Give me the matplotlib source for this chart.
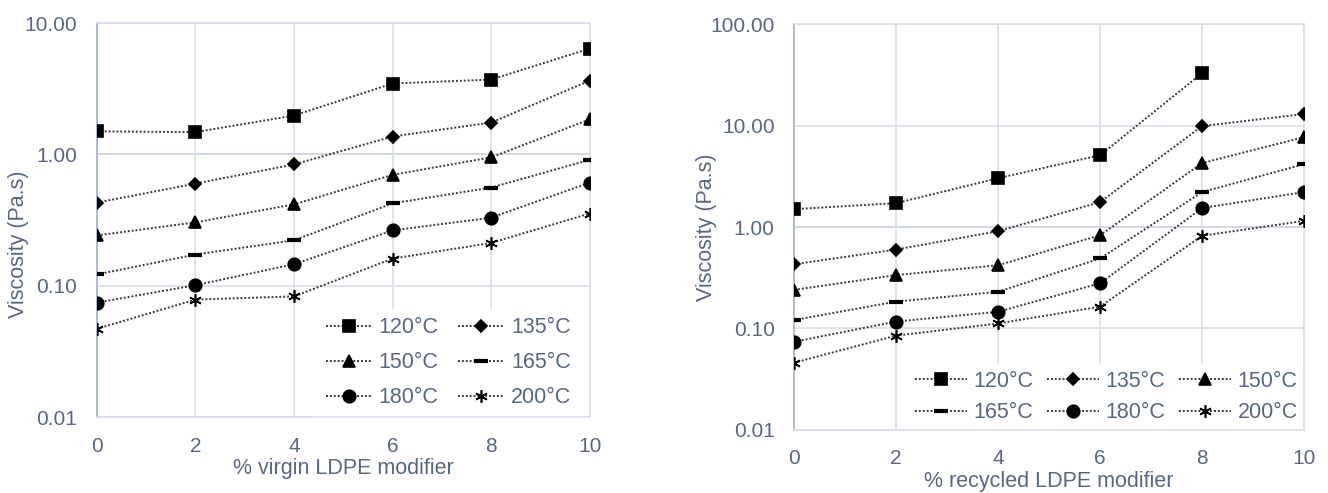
import matplotlib.pyplot as plt
from matplotlib.ticker import FixedLocator, FuncFormatter

plt.rcParams['font.family'] = ['Liberation Sans', 'DejaVu Sans']

# data
pct = [0, 2, 4, 6, 8, 10]
temps = ['120°C', '135°C', '150°C', '165°C', '180°C', '200°C']

virgin_120 = [1.50, 1.48, 1.98, 3.47, 3.72, 6.40]
virgin_135 = [0.43, 0.60, 0.84, 1.37, 1.75, 3.65]
virgin_150 = [0.242, 0.304, 0.417, 0.70, 0.95, 1.85]
virgin_165 = [0.122, 0.173, 0.222, 0.424, 0.56, 0.91]
virgin_180 = [0.0745, 0.101, 0.146, 0.264, 0.33, 0.61]
virgin_200 = [0.047, 0.0785, 0.083, 0.161, 0.212, 0.355]

recycled_120 = [1.50, 1.72, 3.03, 5.1, 32.9]   # no value at 10 %
recycled_135 = [0.43, 0.60, 0.91, 1.76, 9.9, 13.0]
recycled_150 = [0.24, 0.336, 0.42, 0.83, 4.27, 7.7]
recycled_165 = [0.121, 0.184, 0.23, 0.49, 2.21, 4.17]
recycled_180 = [0.074, 0.117, 0.146, 0.279, 1.54, 2.21]
recycled_200 = [0.046, 0.085, 0.112, 0.164, 0.82, 1.15]

virgin = [virgin_120, virgin_135, virgin_150, virgin_165, virgin_180, virgin_200]
recycled = [recycled_120, recycled_135, recycled_150, recycled_165, recycled_180, recycled_200]

markers = ['s', 'D', '^', '_', 'o', (6, 2, 0)]
msizes = [9, 6, 9, 10, 9, 9]

TXT = '#596780'
GRID = '#d9dfe9'
AXIS = '#aebbd0'
LINE = '#3a3a3a'


def draw(ax, series, ymax, xlabel):
    hs = []
    for vals, t, m, ms in zip(series, temps, markers, msizes):
        h, = ax.plot(pct[:len(vals)], vals, color=LINE, ls=(0, (1, 1)), lw=1.4,
                     marker=m, ms=ms, mfc='black', mec='black',
                     mew=3 if m == '_' else 1.2, label=t, zorder=3)
        hs.append(h)
    ax.set_yscale('log')
    ax.set_ylim(0.01, ymax)
    ax.set_xlim(0, 10)
    ax.set_xticks(pct)
    decades = [10.0 ** k for k in range(-2, 3) if 10.0 ** k <= ymax]
    ax.yaxis.set_major_locator(FixedLocator(decades))
    ax.yaxis.set_minor_locator(FixedLocator([]))
    ax.yaxis.set_major_formatter(FuncFormatter(lambda v, p: '%.2f' % v))
    ax.grid(True, color=GRID, lw=1.2, zorder=0)
    ax.axhline(1.0, color=AXIS, lw=1.4, zorder=1)
    for s in ['top', 'right', 'bottom']:
        ax.spines[s].set_color(GRID)
        ax.spines[s].set_linewidth(1.2)
    ax.spines['left'].set_color(AXIS)
    ax.spines['left'].set_linewidth(1.4)
    ax.tick_params(length=0, labelsize=15, colors=TXT, pad=14)
    ax.set_xlabel(xlabel, fontsize=15.5, color=TXT, labelpad=2)
    ax.set_ylabel('Viscosity (Pa.s)', fontsize=15.5, color=TXT)
    return hs


fig = plt.figure(figsize=(13.28, 4.93), dpi=100)
ax1 = fig.add_axes([0.073, 0.154, 0.371, 0.799])
ax2 = fig.add_axes([0.598, 0.128, 0.384, 0.823])

h1 = draw(ax1, virgin, 10, '% virgin LDPE modifier')
h2 = draw(ax2, recycled, 100, '% recycled LDPE modifier')

ax1.yaxis.set_label_coords(-0.138, 0.44)
ax2.yaxis.set_label_coords(-0.151, 0.5)

order1 = [0, 2, 4, 1, 3, 5]
leg1 = ax1.legend([h1[i] for i in order1], [temps[i] for i in order1],
                  ncol=2, loc='lower right', bbox_to_anchor=(0.98, 0.0),
                  borderaxespad=0.0,
                  fontsize=15.5, frameon=True, fancybox=False, framealpha=1,
                  edgecolor='white', handlelength=2.1, columnspacing=0.9,
                  handletextpad=0.35, labelspacing=0.65, borderpad=0.4)
leg1.set_zorder(2.4)
for t in leg1.get_texts():
    t.set_color(TXT)

order2 = [0, 3, 1, 4, 2, 5]
leg2 = ax2.legend([h2[i] for i in order2], [temps[i] for i in order2],
                  ncol=3, loc='lower right', bbox_to_anchor=(1.0, 0.0),
                  borderaxespad=0.0,
                  fontsize=15.5, frameon=True, fancybox=False, framealpha=1,
                  edgecolor='white', handlelength=2.4, columnspacing=0.65,
                  handletextpad=0.3, labelspacing=0.5, borderpad=0.3)
leg2.set_zorder(2.4)
for t in leg2.get_texts():
    t.set_color(TXT)

fig.savefig('out.png', dpi=100, facecolor='white')
